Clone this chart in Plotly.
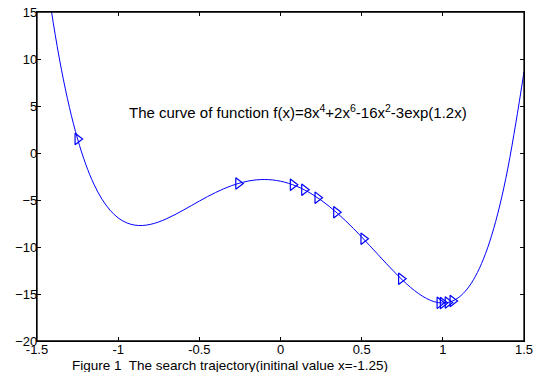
import plotly.graph_objects as go

# Curve samples (x step 0.05)
curve_x = [round(-1.5 + 0.05 * i, 2) for i in range(61)]
curve_y = [26.785, 19.785, 13.873, 8.925, 4.832, 1.491, -1.190, -3.297, -4.905, -6.087,
           -6.904, -7.413, -7.667, -7.712, -7.588, -7.333, -6.979, -6.556, -6.090, -5.604,
           -5.115, -4.643, -4.203, -3.807, -3.467, -3.191, -2.987, -2.862, -2.820, -2.865,
           -3.000, -3.225, -3.542, -3.947, -4.441, -5.017, -5.674, -6.402, -7.195, -8.043,
           -8.935, -9.857, -10.793, -11.725, -12.633, -13.492, -14.274, -14.950, -15.482, -15.834,
           -15.960, -15.812, -15.334, -14.467, -13.141, -11.285, -8.814, -5.640, -1.665, 3.220,
           8.632]

# Search trajectory points
traj_x = [-1.25, -0.26, 0.076, 0.146, 0.228, 0.343, 0.511, 0.743, 0.98, 1.0, 1.03, 1.06]
traj_y = [1.49, -3.24, -3.38, -3.91, -4.75, -6.30, -9.13, -13.38, -15.94, -15.96, -15.91, -15.74]

x_ticks = [-1.5, -1, -0.5, 0, 0.5, 1, 1.5]
x_tick_labels = ["-1.5", "-1", "-0.5", "0", "0.5", "1", "1.5"]
y_ticks = [-20, -15, -10, -5, 0, 5, 10, 15]

blue = "rgb(0,0,255)"
font = "Liberation Sans, Arial, sans-serif"

fig = go.Figure()
fig.add_trace(go.Scatter(x=curve_x, y=curve_y, mode="lines", line=dict(color=blue, width=1, shape="spline"),
                         showlegend=False, hoverinfo="skip"))
fig.add_trace(go.Scatter(x=traj_x, y=traj_y, mode="markers",
                         marker=dict(symbol="triangle-right-open", size=10, color=blue, line=dict(width=1.2, color=blue)),
                         showlegend=False))

fig.add_annotation(x=0.106, y=4.4, xref="x", yref="y", showarrow=False,
                   text="The curve of function f(x)=8x<sup>4</sup>+2x<sup>6</sup>-16x<sup>2</sup>-3exp(1.2x)",
                   font=dict(family=font, size=15, color="black"))
fig.add_annotation(x=0.397, y=-0.073, xref="paper", yref="paper", showarrow=False, yanchor="middle",
                   text="Figure 1  The search trajectory(initinal value x=-1.25)",
                   font=dict(family=font, size=13.5, color="black"))

# frame around the plot area
fig.add_shape(type="rect", xref="paper", yref="paper", x0=0, y0=0, x1=1, y1=1,
              line=dict(color="black", width=1.3), layer="above")

axis_common = dict(showgrid=False, zeroline=False, showline=True, linecolor="black", linewidth=1.3,
                   mirror="ticks", ticks="inside", ticklen=4, tickcolor="black", automargin=False,
                   ticklabeloverflow="allow",
                   tickfont=dict(family=font, size=13, color="black"))
fig.update_xaxes(range=[-1.5, 1.5], tickvals=x_ticks, ticktext=x_tick_labels, ticklabelstandoff=-4, **axis_common)
fig.update_yaxes(range=[-20, 15], tickvals=y_ticks, ticklabelstandoff=-4, **axis_common)

fig.update_layout(width=551, height=372, margin=dict(l=37, r=27, t=12, b=31, autoexpand=False),
                  plot_bgcolor="white", paper_bgcolor="white", font=dict(family=font))
# remove the default page margin so the figure sits at the window's top-left corner
fig.write_html("out.html", config={"displayModeBar": False},
               post_script="document.body.style.margin='0';document.body.style.overflow='hidden';")
